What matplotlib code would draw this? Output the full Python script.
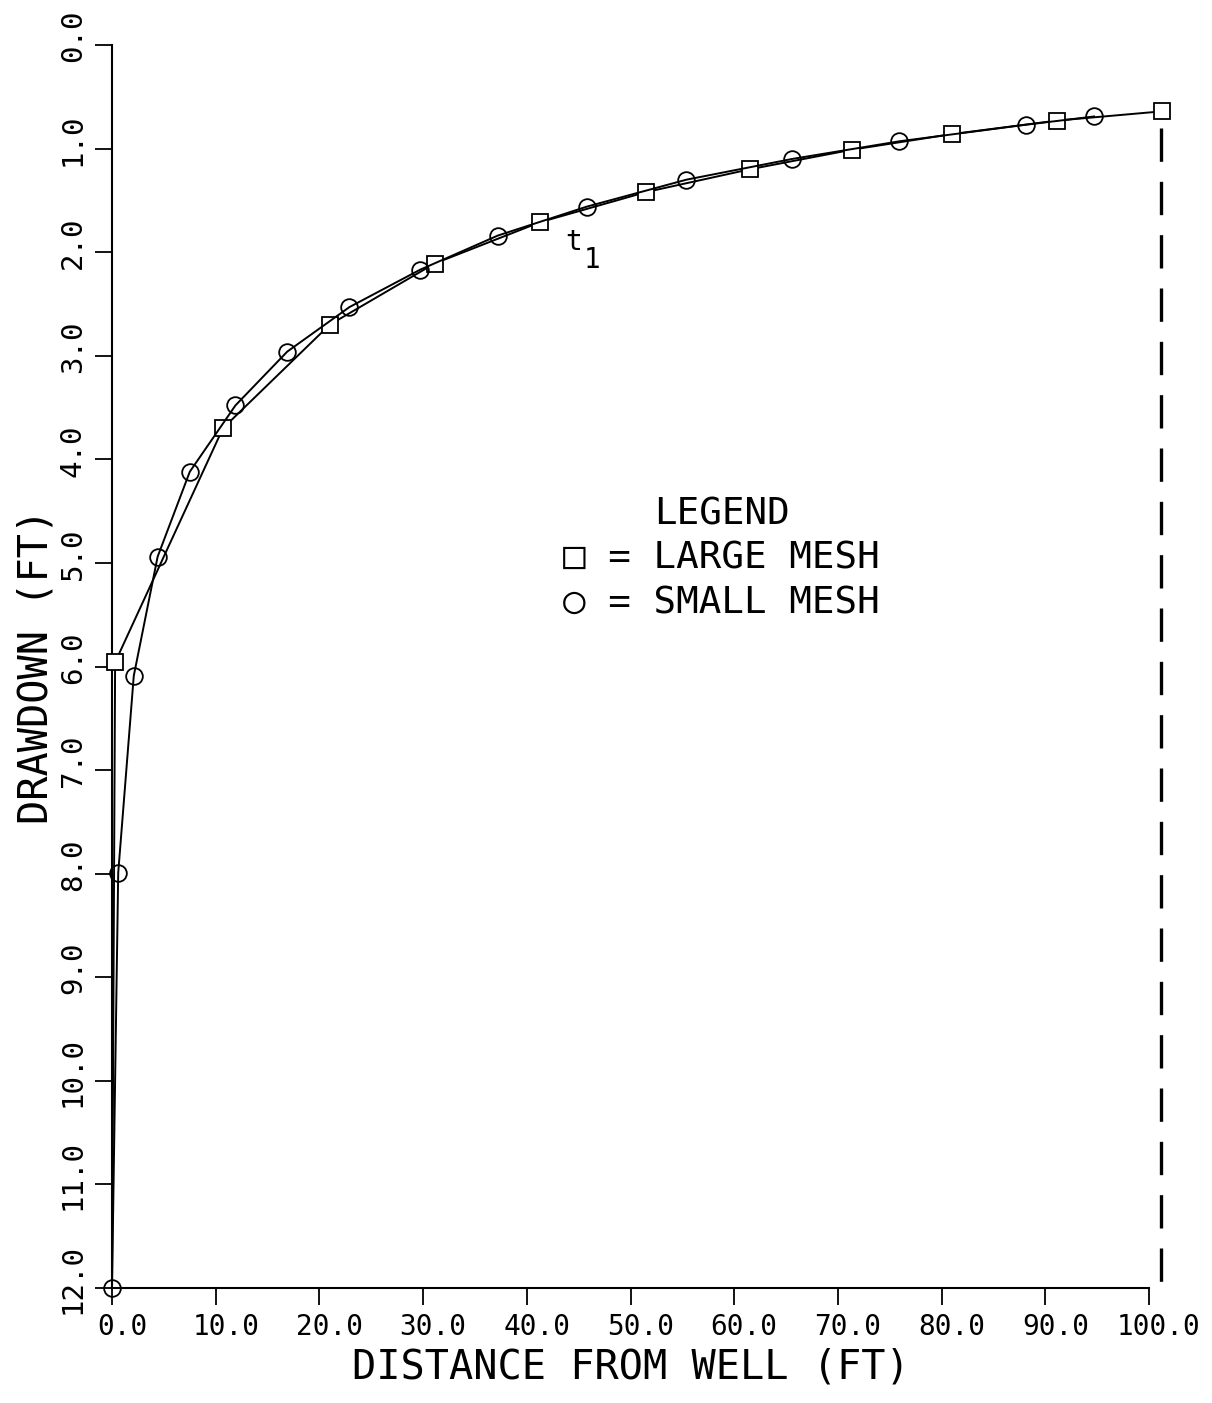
import matplotlib
matplotlib.use("Agg")
import matplotlib.pyplot as plt
import matplotlib.transforms as mtransforms

# ---- data ----
large_x = [0.0, 0.3, 10.7, 21.0, 31.1, 41.3, 51.5, 61.5, 71.4, 81.0, 91.1, 101.3]
large_y = [12.0, 5.96, 3.70, 2.70, 2.11, 1.71, 1.42, 1.20, 1.01, 0.86, 0.73, 0.64]

small_x = [0.0, 0.6, 2.1, 4.4, 7.5, 11.9, 16.9, 22.9, 29.7, 37.2, 45.8, 55.4,
           65.6, 75.9, 88.1, 94.7]
small_y = [12.0, 7.99, 6.09, 4.94, 4.12, 3.48, 2.96, 2.53, 2.17, 1.84, 1.56, 1.30,
           1.10, 0.93, 0.77, 0.69]

boundary_x = [101.2, 101.2]
boundary_y = [0.8, 11.97]

x_ticks = [0, 10, 20, 30, 40, 50, 60, 70, 80, 90, 100]
x_ticklabels = ["0.0", "10.0", "20.0", "30.0", "40.0", "50.0", "60.0",
                "70.0", "80.0", "90.0", "100.0"]
y_ticks = list(range(0, 13))
y_ticklabels = ["0.0", "1.0", "2.0", "3.0", "4.0", "5.0", "6.0", "7.0",
                "8.0", "9.0", "10.0", "11.0", "12.0"]

FONT = "DejaVu Sans Mono"
plt.rcParams["font.family"] = [FONT]

W, H = 1212, 1403
fig = plt.figure(figsize=(W / 100, H / 100), dpi=100)
ax = fig.add_axes([112 / W, 1 - 1288 / H, (1149 - 112) / W, (1288 - 45) / H])

ax.set_xlim(0, 100)
ax.set_ylim(12, 0)

ax.plot(large_x, large_y, color="black", lw=1.4, marker="s", markersize=11,
        markerfacecolor="white", markeredgecolor="black", markeredgewidth=1.3,
        markevery=list(range(1, len(large_x))), clip_on=False, zorder=3)
ax.plot(small_x, small_y, color="black", lw=1.4, marker="o", markersize=12,
        markerfacecolor="none", markeredgecolor="black", markeredgewidth=1.3,
        clip_on=False, zorder=3)
ax.plot(boundary_x, boundary_y, color="black", lw=2.4, dashes=(10, 6),
        clip_on=False, zorder=2)

for s in ["top", "right"]:
    ax.spines[s].set_visible(False)
for s in ["left", "bottom"]:
    ax.spines[s].set_linewidth(1.5)

ax.set_xticks(x_ticks)
ax.set_xticklabels(x_ticklabels, fontsize=20)
ax.set_yticks(y_ticks)
ax.set_yticklabels(y_ticklabels, fontsize=21, rotation=90, va="center")
ax.tick_params(axis="both", direction="out", length=12, width=1.3, pad=6)

# shift tick labels like the plotter output
offx = mtransforms.ScaledTranslation(10 / 100, 0, fig.dpi_scale_trans)
for lab in ax.get_xticklabels():
    lab.set_transform(lab.get_transform() + offx)
offy = mtransforms.ScaledTranslation(0, 9 / 100, fig.dpi_scale_trans)
for lab in ax.get_yticklabels():
    lab.set_transform(lab.get_transform() + offy)

ax.set_xlabel("DISTANCE FROM WELL (FT)", fontsize=29, labelpad=5)
ax.set_ylabel("DRAWDOWN (FT)", fontsize=29, labelpad=2)

# annotation t1
ax.text(43.7, 1.9, "t", fontsize=20, ha="left", va="center")
ax.text(45.5, 2.08, "1", fontsize=20, ha="left", va="center")

# legend block
ax.text(0.588, 0.622, "LEGEND", transform=ax.transAxes, fontsize=27,
        ha="center", va="center")
ax.text(0.435, 0.587, "\u25a1 = LARGE MESH", transform=ax.transAxes, fontsize=27,
        ha="left", va="center")
ax.text(0.435, 0.551, "\u25cb = SMALL MESH", transform=ax.transAxes, fontsize=27,
        ha="left", va="center")

fig.savefig("out.png", dpi=100, facecolor="white")
